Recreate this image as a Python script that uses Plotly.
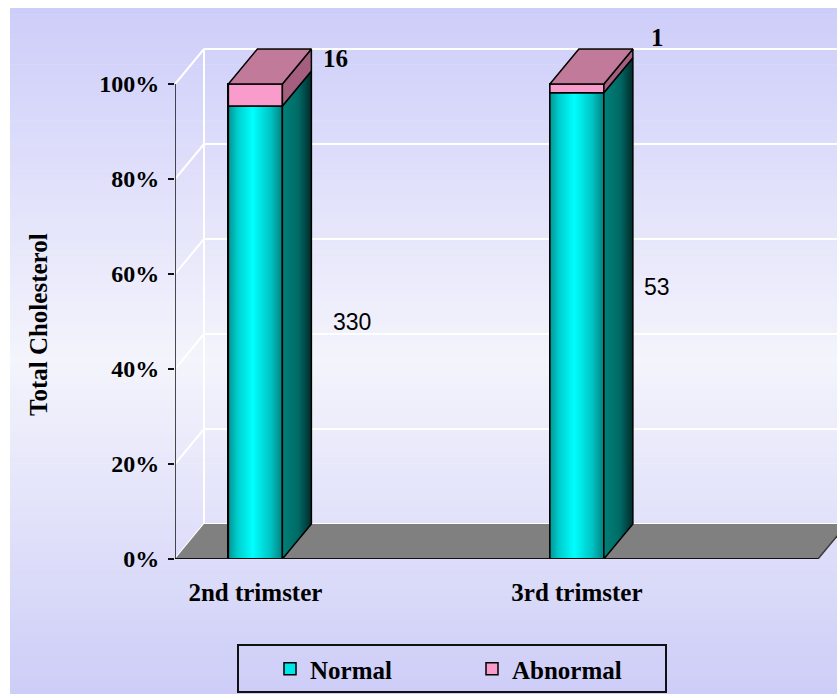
import plotly.graph_objects as go

# ---- data ----
categories = ["2nd trimster", "3rd trimster"]
normal_counts = [330, 53]
abnormal_counts = [16, 1]
series_names = ["Normal", "Abnormal"]
y_tick_values = [0, 20, 40, 60, 80, 100]
y_tick_labels = ["0%", "20%", "40%", "60%", "80%", "100%"]

# share of each group, in percent (100% stacked)
totals = [n + a for n, a in zip(normal_counts, abnormal_counts)]
normal_pct = [n / t * 100 for n, t in zip(normal_counts, totals)]
abnormal_pct = [a / t * 100 for a, t in zip(abnormal_counts, totals)]

# ---- layout geometry ----
W, H = 837, 694
ML, MR, MT, MB = 175, 0, 10, 135
PW, PH = W - ML - MR, H - MT - MB
SLOT_PX = 160.75          # width of one category slot on the front plane
UNIT_PX = 4.75            # pixels per percentage point
X_LEFT = -0.5
X_RIGHT_FLOOR = 3.5
XR = [X_LEFT, X_LEFT + PW / SLOT_PX]
YR = [0, PH / UNIT_PX]
DX = 29 / SLOT_PX         # oblique depth offset, x
DY = 35 / UNIT_PX         # oblique depth offset, y
BAR_W = 54 / SLOT_PX
slots = [0, 2]            # category slot positions on the x axis

# data-label placement (x, y in axis units)
normal_label_pos = [(0.6, 50.0), (2.5, 57.3)]
abnormal_label_pos = [(0.5, 105.3), (2.5, 109.7)]

SERIF = "Liberation Serif"
SANS = "Liberation Sans"


def px_x(px):
    return (px - ML) / PW


def px_y(py):
    return (H - MB - py) / PH


fig = go.Figure()

# legend-carrying stacked bars (front faces)
fig.add_trace(go.Bar(
    x=slots, y=normal_pct, width=BAR_W, name=series_names[0],
    marker=dict(color="#00E6E6", line=dict(color="#000000", width=1.5)),
    hoverinfo="skip"))
fig.add_trace(go.Bar(
    x=slots, y=abnormal_pct, width=BAR_W, name=series_names[1],
    marker=dict(color="#FA9CCB", line=dict(color="#000000", width=1.5)),
    hoverinfo="skip"))


def poly(xs, ys, fillcolor=None, gradient=None):
    kw = dict(x=xs + [xs[0]], y=ys + [ys[0]], mode="lines", fill="toself",
              line=dict(color="#000000", width=1.5), showlegend=False,
              hoverinfo="skip")
    if gradient is not None:
        kw["fillgradient"] = dict(type="horizontal", colorscale=gradient)
    else:
        kw["fillcolor"] = fillcolor
    fig.add_trace(go.Scatter(**kw))


cyan_front = [[0, "#009696"], [0.18, "#00CFCF"], [0.45, "#00FFFF"],
              [0.78, "#00C4C4"], [1, "#008282"]]
teal_side = [[0, "#008078"], [0.55, "#006A66"], [1, "#002C2A"]]

for s, pn, pa in zip(slots, normal_pct, abnormal_pct):
    xl, xr = s - BAR_W / 2, s + BAR_W / 2
    top = pn + pa
    # front faces
    poly([xl, xr, xr, xl], [0, 0, pn, pn], gradient=cyan_front)
    poly([xl, xr, xr, xl], [pn, pn, top, top], fillcolor="#FA9CCB")
    # right side faces
    poly([xr, xr + DX, xr + DX, xr], [0, DY, pn + DY, pn], gradient=teal_side)
    poly([xr, xr + DX, xr + DX, xr], [pn, pn + DY, top + DY, top],
         fillcolor="#A45F7F")
    # top face
    poly([xl, xr, xr + DX, xl + DX], [top, top, top + DY, top + DY],
         fillcolor="#C27A9A")

shapes = []

# vertical background gradient
stops = [(8, (205, 205, 250)), (360, (244, 244, 252)), (694, (205, 205, 248))]
n_strips = 110
for k in range(n_strips):
    y0 = 8 + (H - 8) * k / n_strips
    y1 = 8 + (H - 8) * (k + 1) / n_strips
    ym = (y0 + y1) / 2
    for (a, ca), (b, cb) in zip(stops[:-1], stops[1:]):
        if a <= ym <= b:
            t = (ym - a) / (b - a)
            c = tuple(round(ca[i] + (cb[i] - ca[i]) * t) for i in range(3))
            break
    shapes.append(dict(type="rect", xref="paper", yref="paper",
                       x0=px_x(10), x1=px_x(W + 2), y0=px_y(y1 + 0.6), y1=px_y(y0),
                       fillcolor="rgb(%d,%d,%d)" % c, line=dict(width=0),
                       layer="below"))

# wall gridlines
for v in y_tick_values:
    shapes.append(dict(type="line", xref="x", yref="y",
                       x0=X_LEFT + DX, x1=XR[1] + 1, y0=v + DY, y1=v + DY,
                       line=dict(color="#FFFFFF", width=2), layer="below"))
    shapes.append(dict(type="line", xref="x", yref="y",
                       x0=X_LEFT, x1=X_LEFT + DX, y0=v, y1=v + DY,
                       line=dict(color="#FFFFFF", width=2), layer="below"))
shapes.append(dict(type="line", xref="x", yref="y",
                   x0=X_LEFT + DX, x1=X_LEFT + DX, y0=DY, y1=100 + DY,
                   line=dict(color="#FFFFFF", width=2), layer="below"))

# floor
shapes.append(dict(type="path", xref="x", yref="y", layer="below",
                   path="M %f,0 L %f,0 L %f,%f L %f,%f Z" % (
                       X_LEFT, X_RIGHT_FLOOR, X_RIGHT_FLOOR + DX, DY,
                       X_LEFT + DX, DY),
                   fillcolor="#808080", line=dict(width=0)))
shapes.append(dict(type="line", xref="x", yref="y", layer="below",
                   x0=X_RIGHT_FLOOR, x1=X_RIGHT_FLOOR + DX, y0=0, y1=DY,
                   line=dict(color="#3A3A3A", width=1.5)))
# front floor edge (category axis) and value axis line
shapes.append(dict(type="line", xref="x", yref="y",
                   x0=X_LEFT, x1=X_RIGHT_FLOOR, y0=0, y1=0,
                   line=dict(color="#111111", width=2)))
shapes.append(dict(type="line", xref="x", yref="y",
                   x0=X_LEFT, x1=X_LEFT, y0=0, y1=100,
                   line=dict(color="#111111", width=1.5)))
# category-axis tick marks between slots
for tx in [0.5, 1.5, 2.5, 3.5]:
    shapes.append(dict(type="line", xref="x", yref="y", ysizemode="pixel",
                       yanchor=0, x0=tx, x1=tx, y0=0, y1=-6,
                       line=dict(color="#111111", width=2)))

# legend frame
shapes.append(dict(type="rect", xref="paper", yref="paper",
                   x0=px_x(238), x1=px_x(666), y0=px_y(692), y1=px_y(645),
                   line=dict(color="#111111", width=2),
                   fillcolor="rgba(0,0,0,0)"))

annotations = []
for (lx, ly), n in zip(normal_label_pos, normal_counts):
    annotations.append(dict(x=lx, y=ly, xref="x", yref="y", text=str(n),
                            showarrow=False,
                            font=dict(family=SANS, size=23, color="#000000")))
for (lx, ly), a in zip(abnormal_label_pos, abnormal_counts):
    annotations.append(dict(x=lx, y=ly, xref="x", yref="y", text=str(a),
                            showarrow=False,
                            font=dict(family=SERIF, size=25, color="#000000",
                                      weight="bold")))
annotations.append(dict(x=px_x(38), y=px_y(325), xref="paper", yref="paper",
                        xanchor="center", yanchor="middle",
                        text="Total Cholesterol", textangle=-90, showarrow=False,
                        font=dict(family=SERIF, size=25, color="#000000",
                                  weight="bold")))

fig.update_layout(
    width=W, height=H,
    margin=dict(l=ML, r=MR, t=MT, b=MB, pad=0),
    paper_bgcolor="#FFFFFF", plot_bgcolor="rgba(0,0,0,0)",
    barmode="stack", bargap=0,
    shapes=shapes, annotations=annotations,
    xaxis=dict(range=XR, tickmode="array", tickvals=slots, ticktext=categories,
               ticks="", showgrid=False, zeroline=False, showline=False,
               ticklabelstandoff=16, fixedrange=True,
               tickfont=dict(family=SERIF, size=25, color="#000000",
                             weight="bold")),
    yaxis=dict(range=YR, tickmode="array", tickvals=y_tick_values,
               ticktext=y_tick_labels, ticks="outside", ticklen=6, tickwidth=2,
               tickcolor="#111111", showgrid=False, zeroline=False,
               showline=False, ticklabelstandoff=4, fixedrange=True,
               tickfont=dict(family=SERIF, size=24, color="#000000",
                             weight="bold")),
    legend=dict(orientation="h", x=px_x(270), xanchor="left",
                y=px_y(646), yanchor="top", traceorder="normal",
                bgcolor="rgba(0,0,0,0)", borderwidth=0,
                entrywidth=157, entrywidthmode="pixels",
                font=dict(family=SERIF, size=25, color="#000000",
                          weight="bold")),
    showlegend=True,
)

fig.write_html("out.html")
